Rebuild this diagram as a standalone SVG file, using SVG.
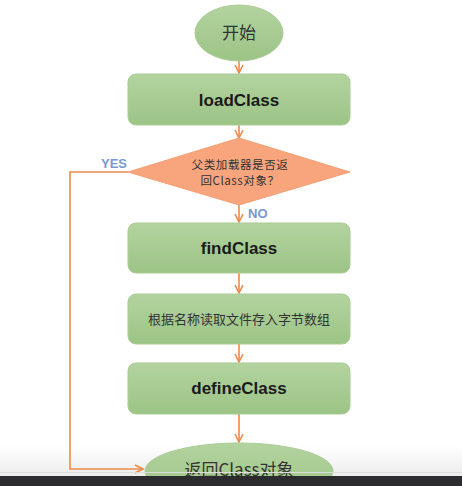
<svg xmlns="http://www.w3.org/2000/svg" width="462" height="486" viewBox="0 0 462 486">
<defs>
<linearGradient id="g" x1="0" y1="0" x2="0" y2="1">
<stop offset="0" stop-color="#b3d39f"/>
<stop offset="1" stop-color="#9cc486"/>
</linearGradient>
<linearGradient id="bg" x1="0" y1="0" x2="0" y2="1">
<stop offset="0" stop-color="#ffffff"/>
<stop offset="1" stop-color="#ececec"/>
</linearGradient>
<marker id="ah" viewBox="0 0 10 10" refX="9" refY="5" markerWidth="10" markerHeight="10" markerUnits="userSpaceOnUse" orient="auto">
<path d="M1,1 L9,5 L1,9" fill="none" stroke="#ed8a4a" stroke-width="1.6"/>
</marker>
<style>
.box{fill:url(#g);stroke:#a9cc93;stroke-width:1}
.lbl{font-family:"Liberation Sans",sans-serif;font-size:17px;font-weight:bold;fill:#1a1a1a;text-anchor:middle}
.cn{font-family:"Noto Sans CJK SC",sans-serif;fill:#333;text-anchor:middle}
.yn{font-family:"Liberation Sans",sans-serif;font-size:13px;font-weight:bold;fill:#7a98cf}
.c{fill:none;stroke:#ed8a4a;stroke-width:1.6;marker-end:url(#ah)}
</style>
</defs>
<rect width="462" height="486" fill="#ffffff"/>
<rect x="0" y="446" width="462" height="30" fill="url(#bg)"/>
<g id="connectors">
<path class="c" d="M239,61 V73"/>
<path class="c" d="M239,125 V138"/>
<path class="c" d="M239,205 V222"/>
<path class="c" d="M239,273 V293"/>
<path class="c" d="M239,344 V362"/>
<path class="c" d="M239,414 V442"/>
<path class="c" d="M128,172 H70 V469 H143"/>
<text class="yn" x="101" y="168">YES</text>
<text class="yn" x="248" y="218">NO</text>
</g>
<g id="start">
<ellipse cx="239" cy="33" rx="44" ry="28" class="box"/>
<text class="cn" x="239" y="39" font-size="17">开始</text>
</g>
<g id="loadClass">
<rect x="128" y="74" width="222" height="51" rx="8" class="box"/>
<text class="lbl" x="239" y="106">loadClass</text>
</g>
<g id="decision">
<polygon points="128,172 239,138 350,172 239,205" fill="#f8a57e" stroke="#f3a074" stroke-width="1"/>
<text class="cn" x="240" y="169" font-size="11.5" letter-spacing="0.6">父类加载器是否返</text>
<text class="cn" x="240" y="185" font-size="11.5" letter-spacing="0.6">回Class对象？</text>
</g>
<g id="findClass">
<rect x="128" y="223" width="222" height="50" rx="8" class="box"/>
<text class="lbl" x="239" y="254">findClass</text>
</g>
<g id="readBytes">
<rect x="128" y="294" width="222" height="50" rx="8" class="box"/>
<text class="cn" x="239" y="324" font-size="13">根据名称读取文件存入字节数组</text>
</g>
<g id="defineClass">
<rect x="128" y="363" width="222" height="51" rx="8" class="box"/>
<text class="lbl" x="239" y="394">defineClass</text>
</g>
<g id="end">
<ellipse cx="239" cy="471" rx="94" ry="28" class="box"/>
<text class="cn" x="239" y="476" font-size="17">返回Class对象</text>
</g>
<rect x="0" y="472" width="462" height="1" fill="#dcdcdc"/>
<rect x="0" y="476" width="462" height="10" fill="#2c2c2e"/>
</svg>
